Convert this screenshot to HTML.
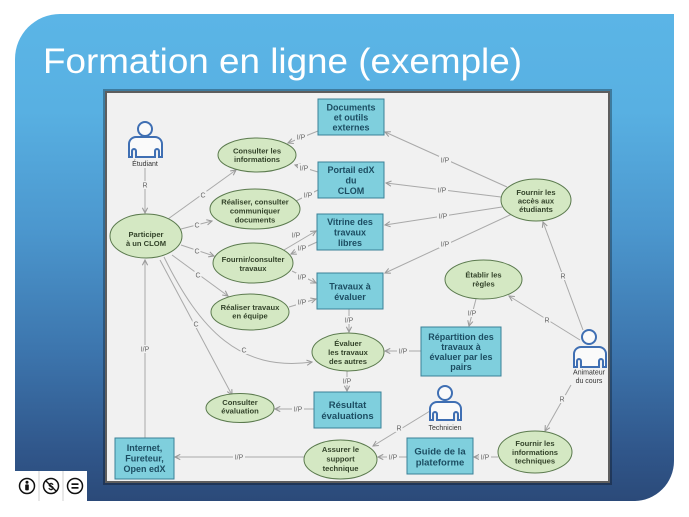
<!DOCTYPE html>
<html><head><meta charset="utf-8"><style>
html,body{margin:0;padding:0;background:#fff;width:689px;height:517px;overflow:hidden}
svg{display:block}
.t{font-family:"Liberation Sans",sans-serif}
.bx{fill:#7fcfdd;stroke:#3a8198;stroke-width:1}
.el{fill:#d4e8c3;stroke:#5b7a4e;stroke-width:1}
.bt{font-family:"Liberation Sans",sans-serif;font-weight:bold;font-size:9px;fill:#1c4d62;text-anchor:middle}
.et{font-family:"Liberation Sans",sans-serif;font-weight:bold;font-size:7.6px;fill:#33432a;text-anchor:middle}
.ln{stroke:#a9a9a9;stroke-width:1;fill:none}
.lb rect{fill:#f1f1f1}
.lb text{font-family:"Liberation Sans",sans-serif;font-size:7px;fill:#666;text-anchor:middle}
.ac{fill:#fafafa;stroke:#3f6fb3;stroke-width:2}
.at{font-family:"Liberation Sans",sans-serif;font-size:7px;fill:#333;text-anchor:middle}
</style></head><body>
<svg width="689" height="517" viewBox="0 0 689 517" xmlns="http://www.w3.org/2000/svg">
<defs>
<linearGradient id="bg" gradientUnits="userSpaceOnUse" x1="0" y1="14" x2="0" y2="501">
<stop offset="0" stop-color="#5bb5e6"/>
<stop offset="0.2" stop-color="#58b0e2"/>
<stop offset="0.45" stop-color="#4b96cd"/>
<stop offset="0.7" stop-color="#3c74ac"/>
<stop offset="0.9" stop-color="#30568a"/>
<stop offset="1" stop-color="#2b4a79"/>
</linearGradient>
<marker id="a" viewBox="0 0 8 8" refX="7" refY="4" markerWidth="7" markerHeight="7" orient="auto" markerUnits="userSpaceOnUse">
<path d="M1,1 L7,4 L1,7" fill="none" stroke="#999" stroke-width="1.2"/>
</marker>
</defs>

<path d="M15,59 A45,45 0 0 1 60,14 H674 V461 A40,40 0 0 1 634,501 H15 Z" fill="url(#bg)"/>

<text class="t" x="43" y="73" font-size="35" fill="#ffffff" textLength="479" lengthAdjust="spacingAndGlyphs">Formation en ligne (exemple)</text>

<rect x="104.5" y="90.5" width="506" height="393" fill="none" stroke="rgba(0,0,0,0.3)" stroke-width="3"/>
<rect x="106" y="92" width="503" height="390" fill="#f1f1f1" stroke="#5e5e5e" stroke-width="2"/>

<g class="ln">
<path d="M145,168 V213" marker-end="url(#a)"/>
<path d="M168,219 L236,170" marker-end="url(#a)"/>
<path d="M181,229 L212,221" marker-end="url(#a)"/>
<path d="M181,245 L214,256" marker-end="url(#a)"/>
<path d="M172,255 L228,296" marker-end="url(#a)"/>
<path d="M160,260 L232,395" marker-end="url(#a)"/>
<path d="M164,257 C200,330 240,372 312,362" marker-end="url(#a)"/>
<path d="M145,438 V260" marker-end="url(#a)"/>
<path d="M304,457 H175" marker-end="url(#a)"/>
<path d="M407,457 H378" marker-end="url(#a)"/>
<path d="M498,457 H474" marker-end="url(#a)"/>
<path d="M430,411 L373,446" marker-end="url(#a)"/>
<path d="M571,385 L545,431" marker-end="url(#a)"/>
<path d="M580,340 L509,296" marker-end="url(#a)"/>
<path d="M583,330 L543,222" marker-end="url(#a)"/>
<path d="M507,187 L385,132" marker-end="url(#a)"/>
<path d="M501,197 L386,183" marker-end="url(#a)"/>
<path d="M502,207 L385,225" marker-end="url(#a)"/>
<path d="M512,214 L385,273" marker-end="url(#a)"/>
<path d="M318,131 L288,143" marker-end="url(#a)"/>
<path d="M318,172 L295,165" marker-end="url(#a)"/>
<path d="M296,201 L318,190"/>
<path d="M284,250 L316,231" marker-end="url(#a)"/>
<path d="M317,242 L291,254" marker-end="url(#a)"/>
<path d="M292,271 L316,283" marker-end="url(#a)"/>
<path d="M289,307 L316,299" marker-end="url(#a)"/>
<path d="M349,309 V332" marker-end="url(#a)"/>
<path d="M421,351 H385" marker-end="url(#a)"/>
<path d="M476,299 L469,326" marker-end="url(#a)"/>
<path d="M347,371 V391" marker-end="url(#a)"/>
<path d="M314,409 H275" marker-end="url(#a)"/>
</g>

<g class="lb">
<rect x="141.5" y="181" width="7" height="8"/><text x="145" y="187.5">R</text>
<rect x="199.5" y="191" width="7" height="8"/><text x="203" y="197.5">C</text>
<rect x="193.5" y="221" width="7" height="8"/><text x="197" y="227.5">C</text>
<rect x="193.5" y="247" width="7" height="8"/><text x="197" y="253.5">C</text>
<rect x="194.5" y="271" width="7" height="8"/><text x="198" y="277.5">C</text>
<rect x="192.5" y="320" width="7" height="8"/><text x="196" y="326.5">C</text>
<rect x="240.5" y="346" width="7" height="8"/><text x="244" y="352.5">C</text>
<rect x="139" y="345" width="12" height="8"/><text x="145" y="351.5">I/P</text>
<rect x="233" y="453" width="12" height="8"/><text x="239" y="459.5">I/P</text>
<rect x="387" y="453" width="12" height="8"/><text x="393" y="459.5">I/P</text>
<rect x="479" y="453" width="12" height="8"/><text x="485" y="459.5">I/P</text>
<rect x="395.5" y="424" width="7" height="8"/><text x="399" y="430.5">R</text>
<rect x="558.5" y="395" width="7" height="8"/><text x="562" y="401.5">R</text>
<rect x="543.5" y="316" width="7" height="8"/><text x="547" y="322.5">R</text>
<rect x="559.5" y="272" width="7" height="8"/><text x="563" y="278.5">R</text>
<rect x="439" y="156" width="12" height="8"/><text x="445" y="162.5">I/P</text>
<rect x="436" y="186" width="12" height="8"/><text x="442" y="192.5">I/P</text>
<rect x="437" y="212" width="12" height="8"/><text x="443" y="218.5">I/P</text>
<rect x="439" y="240" width="12" height="8"/><text x="445" y="246.5">I/P</text>
<rect x="295" y="133" width="12" height="8"/><text x="301" y="139.5">I/P</text>
<rect x="298" y="164" width="12" height="8"/><text x="304" y="170.5">I/P</text>
<rect x="302" y="191" width="12" height="8"/><text x="308" y="197.5">I/P</text>
<rect x="290" y="231" width="12" height="8"/><text x="296" y="237.5">I/P</text>
<rect x="296" y="244" width="12" height="8"/><text x="302" y="250.5">I/P</text>
<rect x="296" y="273" width="12" height="8"/><text x="302" y="279.5">I/P</text>
<rect x="296" y="298" width="12" height="8"/><text x="302" y="304.5">I/P</text>
<rect x="343" y="316" width="12" height="8"/><text x="349" y="322.5">I/P</text>
<rect x="397" y="347" width="12" height="8"/><text x="403" y="353.5">I/P</text>
<rect x="466" y="309" width="12" height="8"/><text x="472" y="315.5">I/P</text>
<rect x="341" y="377" width="12" height="8"/><text x="347" y="383.5">I/P</text>
<rect x="292" y="405" width="12" height="8"/><text x="298" y="411.5">I/P</text>
</g>

<rect class="bx" x="318" y="99" width="66" height="36"/>
<text class="bt"><tspan x="351" y="110.5">Documents</tspan><tspan x="351" y="120.5">et outils</tspan><tspan x="351" y="130.5">externes</tspan></text>
<rect class="bx" x="318" y="162" width="66" height="36"/>
<text class="bt"><tspan x="351" y="173">Portail edX</tspan><tspan x="351" y="183.5">du</tspan><tspan x="351" y="194">CLOM</tspan></text>
<rect class="bx" x="317" y="214" width="66" height="36"/>
<text class="bt"><tspan x="350" y="225">Vitrine des</tspan><tspan x="350" y="235.5">travaux</tspan><tspan x="350" y="246">libres</tspan></text>
<rect class="bx" x="317" y="273" width="66" height="36"/>
<text class="bt"><tspan x="350" y="289.5">Travaux à</tspan><tspan x="350" y="300">évaluer</tspan></text>
<rect class="bx" x="421" y="327" width="80" height="49"/>
<text class="bt"><tspan x="461" y="340">Répartition des</tspan><tspan x="461" y="350">travaux à</tspan><tspan x="461" y="360">évaluer par les</tspan><tspan x="461" y="370">pairs</tspan></text>
<rect class="bx" x="314" y="392" width="67" height="36"/>
<text class="bt" style="font-size:9.5px"><tspan x="347.5" y="408">Résultat</tspan><tspan x="347.5" y="419">évaluations</tspan></text>
<rect class="bx" x="115" y="438" width="59" height="41"/>
<text class="bt"><tspan x="144.5" y="451">Internet,</tspan><tspan x="144.5" y="461.5">Fureteur,</tspan><tspan x="144.5" y="472">Open edX</tspan></text>
<rect class="bx" x="407" y="438" width="66" height="36"/>
<text class="bt" style="font-size:9.5px"><tspan x="440" y="454.5">Guide de la</tspan><tspan x="440" y="465.5">plateforme</tspan></text>

<ellipse class="el" cx="257" cy="155" rx="39" ry="17"/>
<text class="et"><tspan x="257" y="153.5">Consulter les</tspan><tspan x="257" y="162">informations</tspan></text>
<ellipse class="el" cx="255" cy="209" rx="45" ry="20"/>
<text class="et"><tspan x="255" y="204.5">Réaliser, consulter</tspan><tspan x="255" y="213.5">communiquer</tspan><tspan x="255" y="222.5">documents</tspan></text>
<ellipse class="el" cx="146" cy="236" rx="36" ry="22"/>
<text class="et"><tspan x="146" y="237">Participer</tspan><tspan x="146" y="246">à un CLOM</tspan></text>
<ellipse class="el" cx="253" cy="263" rx="40" ry="20"/>
<text class="et"><tspan x="253" y="262">Fournir/consulter</tspan><tspan x="253" y="271">travaux</tspan></text>
<ellipse class="el" cx="250" cy="312" rx="39" ry="18"/>
<text class="et"><tspan x="250" y="310">Réaliser travaux</tspan><tspan x="250" y="318.5">en équipe</tspan></text>
<ellipse class="el" cx="348" cy="352" rx="36" ry="19"/>
<text class="et"><tspan x="348" y="346">Évaluer</tspan><tspan x="348" y="355">les travaux</tspan><tspan x="348" y="364">des autres</tspan></text>
<ellipse class="el" cx="240" cy="408" rx="34" ry="14.5"/>
<text class="et"><tspan x="240" y="405">Consulter</tspan><tspan x="240" y="413.5">évaluation</tspan></text>
<ellipse class="el" cx="340.5" cy="459.5" rx="36.5" ry="19.5"/>
<text class="et"><tspan x="340.5" y="452">Assurer le</tspan><tspan x="340.5" y="461.5">support</tspan><tspan x="340.5" y="471">technique</tspan></text>
<ellipse class="el" cx="536" cy="200" rx="35" ry="21"/>
<text class="et"><tspan x="536" y="195">Fournir les</tspan><tspan x="536" y="203.5">accès aux</tspan><tspan x="536" y="212">étudiants</tspan></text>
<ellipse class="el" cx="483.5" cy="279.5" rx="38.5" ry="19.5"/>
<text class="et"><tspan x="483.5" y="277.5">Établir les</tspan><tspan x="483.5" y="286.5">règles</tspan></text>
<ellipse class="el" cx="535" cy="452" rx="37" ry="21"/>
<text class="et"><tspan x="535" y="446">Fournir les</tspan><tspan x="535" y="455">informations</tspan><tspan x="535" y="463.5">techniques</tspan></text>

<g>
<circle class="ac" cx="145" cy="129" r="7"/>
<path class="ac" d="M132,157 H129 V144 A7,7 0 0 1 136,137 H155 A7,7 0 0 1 162,144 V157 H159 V151 A2,2 0 0 0 155,151 V157 H136 V151 A2,2 0 0 0 132,151 Z"/>
<text class="at" x="145" y="166">Étudiant</text>
</g>
<g>
<circle class="ac" cx="445" cy="393" r="7"/>
<path class="ac" d="M433,420 H430 V409 A7,7 0 0 1 437,402 H454 A7,7 0 0 1 461,409 V420 H458 V414 A2,2 0 0 0 454,414 V420 H437 V414 A2,2 0 0 0 433,414 Z"/>
<text class="at" x="445" y="430">Technicien</text>
</g>
<g>
<circle class="ac" cx="589" cy="337" r="7"/>
<path class="ac" d="M577,367 H574 V354 A7,7 0 0 1 581,347 H599 A7,7 0 0 1 606,354 V367 H603 V361 A2,2 0 0 0 599,361 V367 H581 V361 A2,2 0 0 0 577,361 Z"/>
<text class="at" x="589" y="374.5">Animateur</text>
<text class="at" x="589" y="383">du cours</text>
</g>

<rect x="15" y="471" width="72" height="30" fill="#ffffff"/>
<line x1="39" y1="471" x2="39" y2="501" stroke="#d0d0d0" stroke-width="1"/>
<line x1="63" y1="471" x2="63" y2="501" stroke="#d0d0d0" stroke-width="1"/>
<circle cx="27" cy="486" r="7.5" fill="#fff" stroke="#111" stroke-width="1.5"/>
<circle cx="27" cy="482.2" r="1.5" fill="#111"/>
<rect x="25.2" y="484.4" width="3.6" height="6" rx="0.9" fill="#111"/>
<circle cx="51" cy="486" r="7.5" fill="#fff" stroke="#111" stroke-width="1.5"/>
<text x="51" y="489.8" font-family="Liberation Sans, sans-serif" font-size="10" font-weight="bold" fill="#111" text-anchor="middle">$</text>
<line x1="46" y1="481" x2="56" y2="491" stroke="#111" stroke-width="1.3"/>
<circle cx="75" cy="486" r="7.5" fill="#fff" stroke="#111" stroke-width="1.5"/>
<rect x="71.5" y="483.3" width="7" height="1.7" fill="#111"/>
<rect x="71.5" y="487" width="7" height="1.7" fill="#111"/>
</svg>
</body></html>
